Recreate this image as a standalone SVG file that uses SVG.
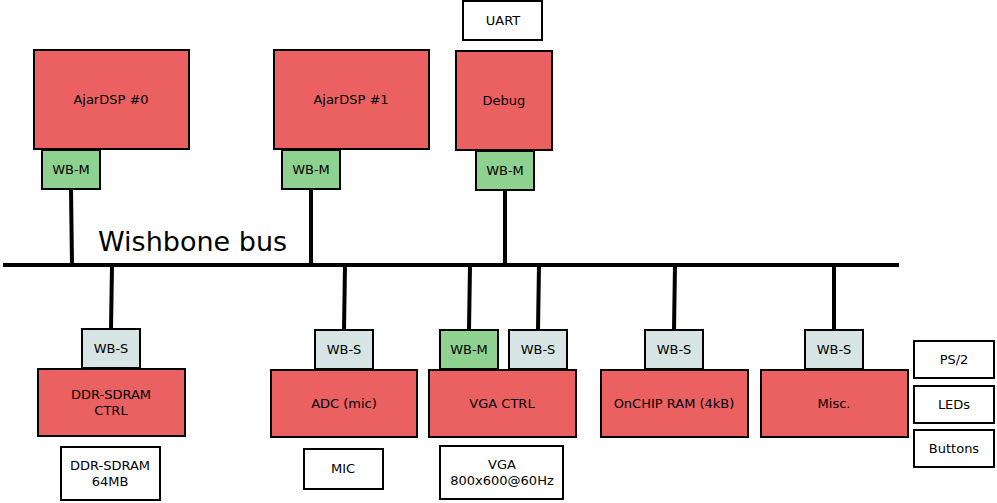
<svg xmlns="http://www.w3.org/2000/svg" width="997" height="503" viewBox="0 0 997 503">
<style>
rect{stroke:#000;stroke-width:2}
.r{fill:#eb6060}
.m{fill:#8fd18e}
.s{fill:#d6e4e3}
.w{fill:#fff}
text{font-family:"DejaVu Sans",sans-serif;font-size:13px;text-anchor:middle;fill:#000}
.bus{stroke:#000;stroke-width:4;fill:none}
</style>
<rect x="0" y="0" width="997" height="503" style="fill:#fff;stroke:none"/>
<g id="connectors">
<line class="bus" x1="3" y1="265" x2="899" y2="265"/>
<line class="bus" x1="71" y1="189" x2="72" y2="265"/>
<line class="bus" x1="311" y1="189" x2="311" y2="265"/>
<line class="bus" x1="505" y1="190" x2="505" y2="265"/>
<line class="bus" x1="112" y1="265" x2="111" y2="329"/>
<line class="bus" x1="345" y1="265" x2="344" y2="330"/>
<line class="bus" x1="470" y1="265" x2="469" y2="330"/>
<line class="bus" x1="539" y1="265" x2="538" y2="330"/>
<line class="bus" x1="675" y1="265" x2="674" y2="330"/>
<line class="bus" x1="834" y1="265" x2="834" y2="330"/>
</g>
<text x="98" y="251" style="font-size:27px;text-anchor:start">Wishbone bus</text>
<g id="ajar0"><rect class="r" x="34" y="50" width="155" height="99"/><text x="111" y="104">AjarDSP #0</text></g>
<g id="ajar0m"><rect class="m" x="42" y="150" width="58" height="39"/><text x="71" y="174">WB-M</text></g>
<g id="ajar1"><rect class="r" x="274" y="50" width="155" height="99"/><text x="351" y="104">AjarDSP #1</text></g>
<g id="ajar1m"><rect class="m" x="282" y="150" width="58" height="39"/><text x="311" y="174">WB-M</text></g>
<g id="uart"><rect class="w" x="463" y="1" width="79" height="39"/><text x="503" y="25">UART</text></g>
<g id="debug"><rect class="r" x="456" y="51" width="96" height="99"/><text x="504" y="105">Debug</text></g>
<g id="debugm"><rect class="m" x="476" y="151" width="58" height="39"/><text x="505" y="175">WB-M</text></g>
<g id="ddrs"><rect class="s" x="82" y="329" width="58" height="39"/><text x="111" y="353">WB-S</text></g>
<g id="ddr"><rect class="r" x="38" y="369" width="147" height="67"/><text x="111" y="399">DDR-SDRAM</text><text x="111" y="415">CTRL</text></g>
<g id="ddrmem"><rect class="w" x="61" y="447" width="99" height="53"/><text x="110" y="470">DDR-SDRAM</text><text x="110" y="486">64MB</text></g>
<g id="adcs"><rect class="s" x="315" y="330" width="58" height="39"/><text x="344" y="354">WB-S</text></g>
<g id="adc"><rect class="r" x="271" y="370" width="146" height="67"/><text x="344" y="408">ADC (mic)</text></g>
<g id="mic"><rect class="w" x="304" y="449" width="79" height="40"/><text x="343" y="473">MIC</text></g>
<g id="vgam"><rect class="m" x="440" y="330" width="58" height="39"/><text x="469" y="354">WB-M</text></g>
<g id="vgas"><rect class="s" x="509" y="330" width="58" height="39"/><text x="538" y="354">WB-S</text></g>
<g id="vga"><rect class="r" x="429" y="370" width="147" height="67"/><text x="502" y="408">VGA CTRL</text></g>
<g id="vgaout"><rect class="w" x="440" y="446" width="123" height="53"/><text x="502" y="469">VGA</text><text x="502" y="485">800x600@60Hz</text></g>
<g id="rams"><rect class="s" x="645" y="330" width="58" height="39"/><text x="674" y="354">WB-S</text></g>
<g id="ram"><rect class="r" x="601" y="370" width="147" height="67"/><text x="674" y="408">OnCHIP RAM (4kB)</text></g>
<g id="miscs"><rect class="s" x="805" y="330" width="58" height="39"/><text x="834" y="354">WB-S</text></g>
<g id="misc"><rect class="r" x="761" y="370" width="147" height="67"/><text x="834" y="408">Misc.</text></g>
<g id="ps2"><rect class="w" x="914" y="341" width="80" height="37"/><text x="954" y="364">PS/2</text></g>
<g id="leds"><rect class="w" x="914" y="386" width="80" height="37"/><text x="954" y="409">LEDs</text></g>
<g id="buttons"><rect class="w" x="914" y="430" width="80" height="37"/><text x="954" y="453">Buttons</text></g>
</svg>
